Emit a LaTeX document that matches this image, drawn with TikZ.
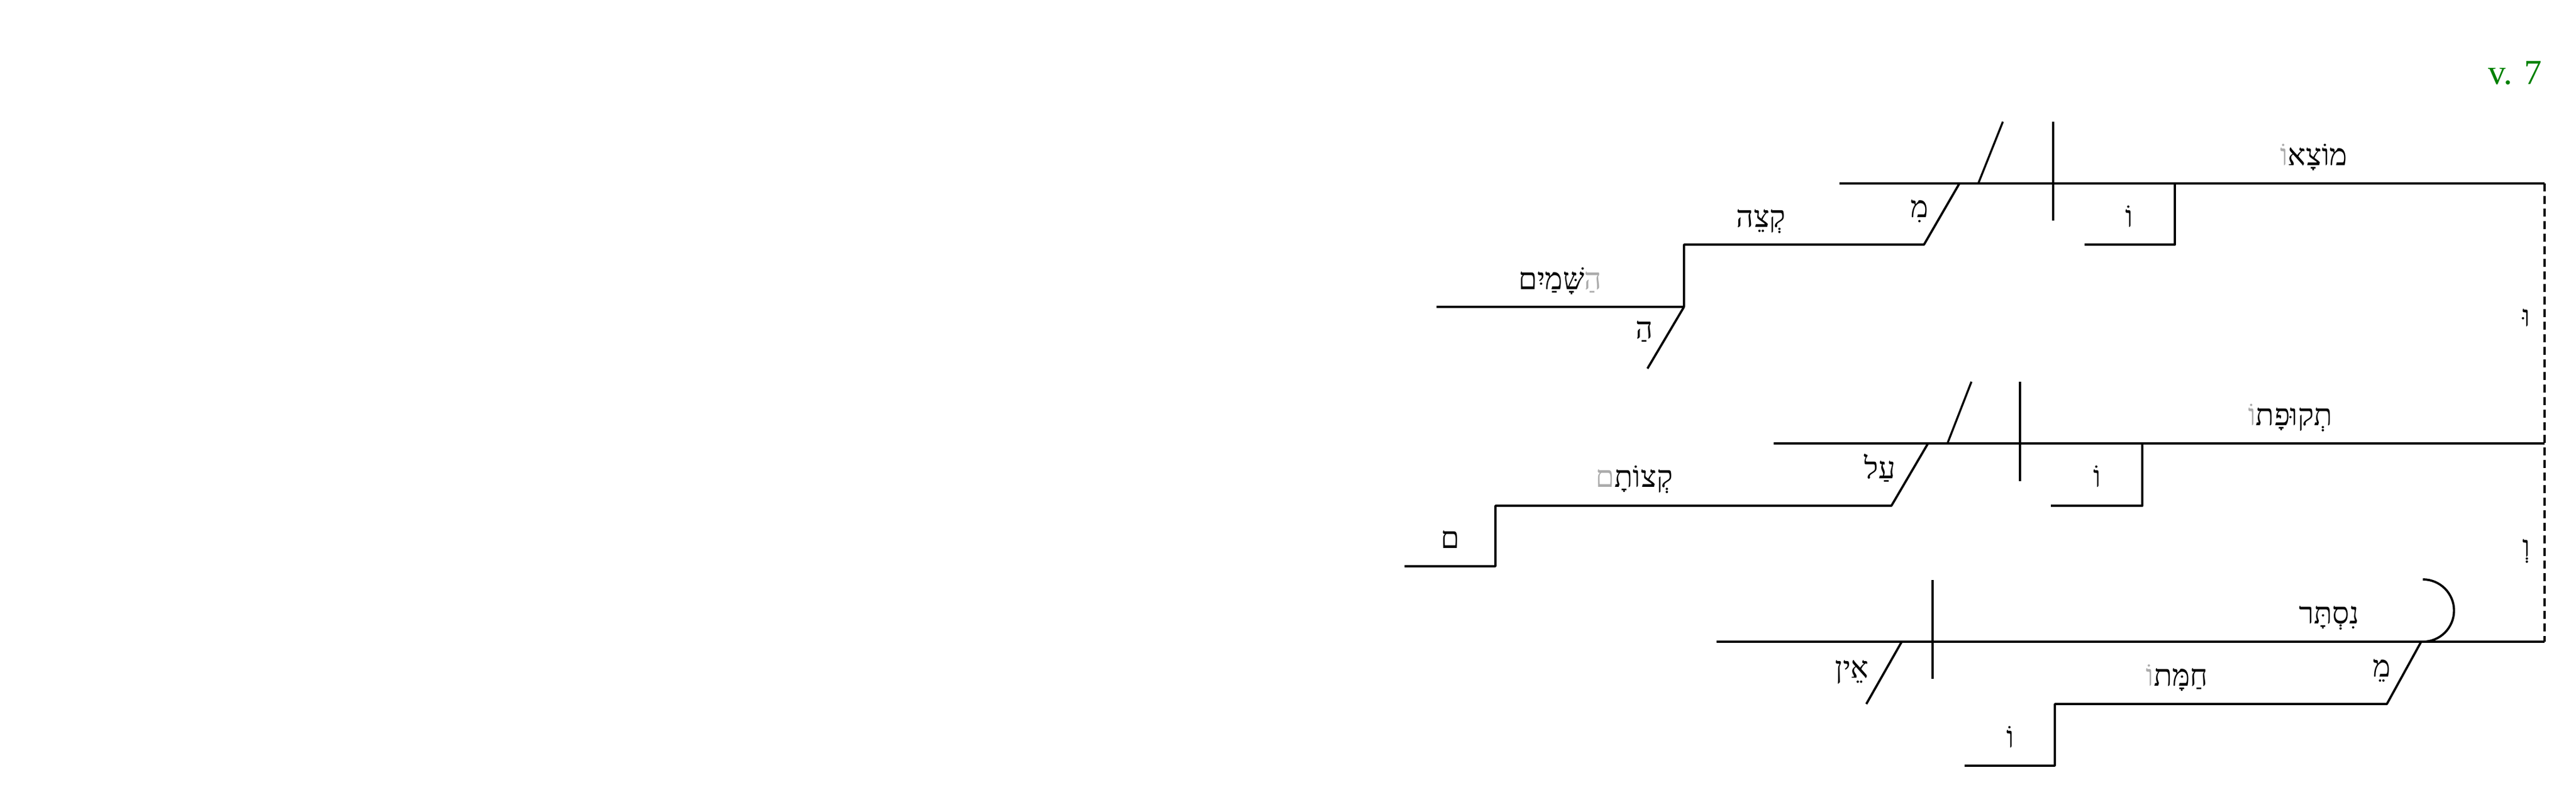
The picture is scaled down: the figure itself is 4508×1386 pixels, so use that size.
\documentclass[tikz,border=0pt]{standalone}
\usepackage{fontspec}
\usepackage{xcolor}
\usepackage{tikz}
\setmainfont{Liberation Serif}
\newfontfamily\hebfont[Script=Hebrew]{Liberation Serif}
\TeXXeTstate=1
\definecolor{vert}{RGB}{0,128,0}
\newcommand{\cgris}[1]{\textcolor{black!33}{#1}}
\newcommand{\heb}[1]{{\hebfont\beginR #1\endR}}
% pieces already in visual order (left to right)
\newcommand{\hebv}[1]{{\hebfont #1}}

\begin{document}
\begin{tikzpicture}[x=0.01cm,y=-0.01cm,line width=1.1pt,line join=round]
  \tikzstyle{word}=[anchor=base,inner sep=0pt,font=\fontsize{15}{18}\hebfont]
  \tikzstyle{bar}=[line width=1pt]
  \useasboundingbox (0,0) rectangle (4508,1386);

  % verse number
  \node[anchor=base east,inner sep=0pt,text=vert,font=\fontsize{17.5}{20}\selectfont] (vnum) at (4450,148) {v. 7};

  % first clause
  \coordinate (A0) at (3219,321);
  \coordinate (A1) at (4453,321);
  \coordinate (Asl) at (3462,321);
  \coordinate (Ast) at (3505,213);
  \coordinate (Adt) at (3593,213);
  \coordinate (Adb) at (3593,386);
  \coordinate (Asf) at (3806,321);
  \coordinate (Asg) at (3806,428);
  \coordinate (Ash) at (3648,428);
  \coordinate (Am)  at (3429,321);
  \coordinate (Am1) at (3367,428);
  \coordinate (Aq)  at (2947,428);
  \coordinate (Aq1) at (2947,537);
  \coordinate (Ah)  at (2514,537);
  \coordinate (Ah1) at (2883,645);

  \draw (A0) -- (A1);
  \draw[bar] (Asl) -- (Ast);
  \draw[bar] (Adt) -- (Adb);
  \draw (Asf) -- (Asg) -- (Ash);
  \draw (Am) -- (Am1) -- (Aq) -- (Aq1) -- (Ah);
  \draw (Aq1) -- (Ah1);

  \node[word] (motsao)  at (4049,290) {\hebv{\cgris{וֹ}מוֹצָא}};
  \node[word] (mi)      at (3359,381) {\heb{מִ}};
  \node[word] (qetse)   at (3082,398) {\heb{קְצֵה}};
  \node[word] (shamayim) at (2730,507) {\hebv{שָּׁמַיִם\cgris{הַ}}};
  \node[word] (ha)      at (2878,593) {\heb{הַ}};
  \node[word] (o1)      at (3726,398) {\heb{וֹ}};

  % second clause
  \coordinate (B0) at (3104,776);
  \coordinate (B1) at (4453,776);
  \coordinate (Bsl) at (3408,776);
  \coordinate (Bst) at (3450,668);
  \coordinate (Bdt) at (3535,668);
  \coordinate (Bdb) at (3535,842);
  \coordinate (Bsf) at (3749,776);
  \coordinate (Bsg) at (3749,885);
  \coordinate (Bsh) at (3589,885);
  \coordinate (Bal) at (3374,776);
  \coordinate (Bal1) at (3310,885);
  \coordinate (Bq)  at (2617,885);
  \coordinate (Bq1) at (2617,991);
  \coordinate (Bm)  at (2458,991);

  \draw (B0) -- (B1);
  \draw[bar] (Bsl) -- (Bst);
  \draw[bar] (Bdt) -- (Bdb);
  \draw (Bsf) -- (Bsg) -- (Bsh);
  \draw (Bal) -- (Bal1) -- (Bq) -- (Bq1) -- (Bm);

  \node[word] (tequfato) at (4008,745) {\hebv{\cgris{וֹ}תְקוּפָת}};
  \node[word] (al)       at (3290,838) {\heb{עַל}};
  \node[word] (qetsotam) at (2860,853) {\hebv{\cgris{ם}קְצוֹתָ}};
  \node[word] (mem)      at (2538,960) {\heb{ם}};
  \node[word] (o2)       at (3670,853) {\heb{וֹ}};

  % third clause
  \coordinate (C0) at (3004,1123);
  \coordinate (C1) at (4453,1123);
  \coordinate (Cdt) at (3382,1015);
  \coordinate (Cdb) at (3382,1188);
  \coordinate (Cen) at (3328,1123);
  \coordinate (Cen1) at (3266,1232);
  \coordinate (Carc) at (4240,1014);
  \coordinate (Cme) at (4237,1123);
  \coordinate (Cme1) at (4177,1232);
  \coordinate (Cq)  at (3596,1232);
  \coordinate (Cq1) at (3596,1340);
  \coordinate (Cv)  at (3438,1340);

  \draw (C0) -- (C1);
  \draw[bar] (Cdt) -- (Cdb);
  \draw (Cen) -- (Cen1);
  \draw (Carc) arc[start angle=-90,end angle=90,radius=54.5];
  \draw (Cme) -- (Cme1) -- (Cq) -- (Cq1) -- (Cv);

  \node[word] (nistar)  at (4076,1092) {\heb{נִסְתָּר}};
  \node[word] (en)      at (3241,1187) {\heb{אֵין}};
  \node[word] (me)      at (4168,1185) {\heb{מֵ}};
  \node[word] (hamato)  at (3810,1200) {\hebv{\cgris{וֹ}חַמָּת}};
  \node[word] (o3)      at (3518,1308) {\heb{וֹ}};

  % joining the clauses
  \draw[dash pattern=on 0.14cm off 0.08cm] (A1) -- (B1) -- (C1);
  \node[word] (u)  at (4421,572) {\heb{וּ}};
  \node[word] (ve) at (4421,975) {\heb{וְ}};
\end{tikzpicture}
\end{document}
